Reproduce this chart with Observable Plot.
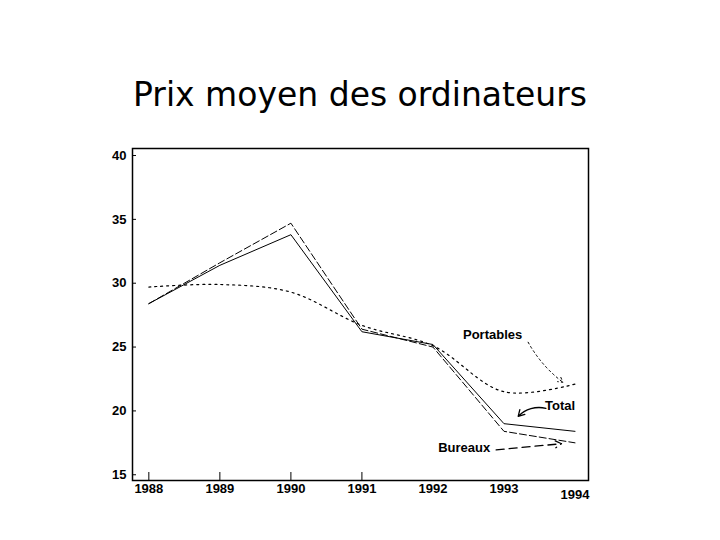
<!DOCTYPE html>
<html>
<head>
<meta charset="utf-8">
<script src="https://cdn.jsdelivr.net/npm/d3@7"></script>
<script src="https://cdn.jsdelivr.net/npm/@observablehq/plot@0.6"></script>
<style>
  body { margin: 0; background: #fff; }
  #wrap { position: relative; width: 720px; height: 540px; }
  #title { position: absolute; left: 0; width: 720px; top: 76px; text-align: center;
           font-family: "DejaVu Sans", sans-serif; font-size: 33px; line-height: 38px; color: #000; }
  #chart { position: absolute; left: 0; top: 0; }
</style>
</head>
<body>
<div id="wrap">
  <div id="chart"></div>
  <div id="title">Prix moyen des ordinateurs</div>
</div>
<script>
const years = [1988, 1989, 1990, 1991, 1992, 1993, 1994];
const tickYears = [1988, 1989, 1990, 1991];
const total = [28.4, 31.4, 33.8, 26.2, 25.2, 19.0, 18.4];
const bureaux = [28.4, 31.6, 34.7, 26.4, 25.0, 18.4, 17.5];
const portables = [29.7, 29.9, 29.3, 26.7, 25.1, 21.5, 22.1];
const yTicks = [15, 20, 25, 30, 35, 40];

const labelNames = ["Portables", "Total", "Bureaux"];
const labelX = [1992.84, 1993.79, 1992.44];
const labelY = [25.93, 20.36, 17.14];
const arrowX1 = [1993.34, 1993.59, 1992.89];
const arrowY1 = [25.38, 20.2, 16.95];
const arrowX2 = [1993.83, 1993.2, 1993.81];
const arrowY2 = [22.24, 19.57, 17.43];
const arrowDash = ["2,3", null, "8,5"];
const arrowBend = [-12, -30, 0];

const rows = (vals) => years.map((y, i) => ({year: y, value: vals[i]}));
const labels = labelNames.map((n, i) => ({name: n, x: labelX[i], y: labelY[i]}));
const arrows = labelNames.map((n, i) => ({x1: arrowX1[i], y1: arrowY1[i], x2: arrowX2[i], y2: arrowY2[i]}));

const plot = Plot.plot({
  width: 720,
  height: 540,
  marginLeft: 132,
  marginRight: 132,
  marginTop: 148,
  marginBottom: 60,
  style: {fontFamily: "Liberation Sans, Arial, sans-serif", fontSize: "13px", fontWeight: "bold", color: "#000", background: "transparent"},
  x: {domain: [1987.77, 1994.19]},
  y: {domain: [14.55, 40.55]},
  marks: [
    Plot.frame({stroke: "#000", strokeWidth: 1.5}),
    Plot.axisY({ticks: yTicks, tickSize: -4, tickPadding: 10, label: null, stroke: "#000"}),
    Plot.axisX({ticks: tickYears, tickFormat: () => "", tickSize: -8, label: null}),
    Plot.axisX({ticks: years.slice(0, 6), tickFormat: d => String(d), tickSize: 0, tickPadding: 3, label: null}),
    Plot.axisX({ticks: years.slice(6), tickFormat: d => String(d), tickSize: 0, tickPadding: 9, label: null}),
    Plot.line(rows(portables), {x: "year", y: "value", stroke: "#000", strokeWidth: 1.2, strokeDasharray: "2,4", curve: "catmull-rom"}),
    Plot.line(rows(bureaux), {x: "year", y: "value", stroke: "#000", strokeWidth: 1, strokeDasharray: "7,3"}),
    Plot.line(rows(total), {x: "year", y: "value", stroke: "#000", strokeWidth: 1}),
    ...arrows.map((a, i) => Plot.arrow([a], {x1: "x1", y1: "y1", x2: "x2", y2: "y2", stroke: "#000", strokeWidth: i === 0 ? 1 : 1.3, strokeDasharray: arrowDash[i], bend: arrowBend[i], headLength: 8})),
    Plot.text(labels, {x: "x", y: "y", text: "name", fontSize: 13, fontWeight: "bold", fill: "#000"})
  ]
});
document.getElementById("chart").appendChild(plot);
</script>
</body>
</html>
